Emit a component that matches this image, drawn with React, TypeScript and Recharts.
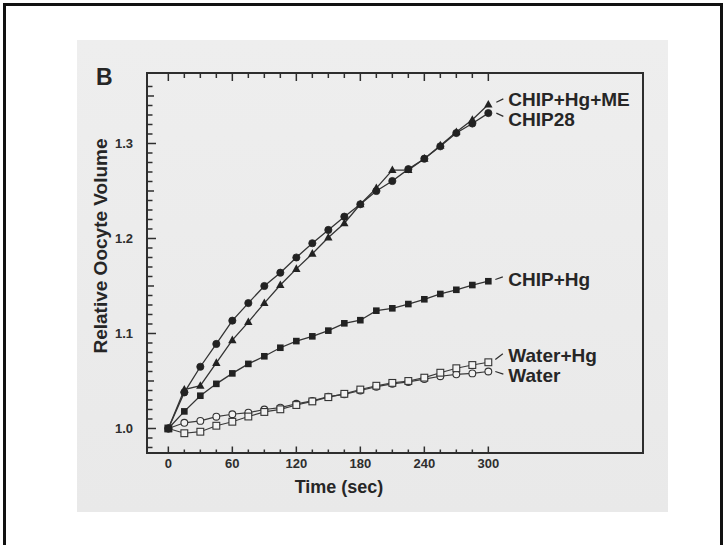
import React from 'react';
import { LineChart, Line, XAxis, YAxis, ReferenceArea, ReferenceLine } from 'recharts';

// ---- data ----
const times = [0, 15, 30, 45, 60, 75, 90, 105, 120, 135, 150, 165, 180, 195, 210, 225, 240, 255, 270, 285, 300];
const chipHgMe = [1.0, 1.041, 1.045, 1.069, 1.093, 1.112, 1.132, 1.151, 1.168, 1.184, 1.201, 1.216, 1.236, 1.253, 1.272, 1.272, 1.284, 1.298, 1.312, 1.325, 1.341];
const chip28 = [1.0, 1.038, 1.065, 1.089, 1.1135, 1.132, 1.15, 1.164, 1.18, 1.195, 1.209, 1.223, 1.236, 1.25, 1.2605, 1.273, 1.284, 1.297, 1.311, 1.321, 1.332];
const chipHg = [1.0, 1.018, 1.0345, 1.047, 1.058, 1.068, 1.076, 1.085, 1.092, 1.097, 1.103, 1.1107, 1.114, 1.124, 1.1265, 1.131, 1.136, 1.1416, 1.146, 1.151, 1.155];
const waterHg = [1.0, 0.995, 0.9966, 1.0029, 1.0071, 1.0126, 1.0174, 1.0202, 1.0247, 1.0285, 1.033, 1.0365, 1.041, 1.045, 1.048, 1.05, 1.0535, 1.0587, 1.0634, 1.0668, 1.0697];
const water = [1.0, 1.006, 1.008, 1.0124, 1.015, 1.0166, 1.02, 1.022, 1.026, 1.029, 1.0335, 1.036, 1.04, 1.044, 1.047, 1.049, 1.052, 1.055, 1.057, 1.058, 1.06];

const xTickLabels = [0, 60, 120, 180, 240, 300];
const yTickLabels = ['1.0', '1.1', '1.2', '1.3'];
const yMinorTicks = Array.from({ length: 39 }, (_, i) => Math.round((0.98 + i * 0.01) * 100) / 100);
const xDomain = [-20, 445];
const yDomain = [0.9742, 1.3742];

const data = times.map((t, i) => ({
  t,
  chipHgMe: chipHgMe[i],
  chip28: chip28[i],
  chipHg: chipHg[i],
  waterHg: waterHg[i],
  water: water[i],
}));

const INK = '#2e2e2e';
const FONT = '"Liberation Sans", Arial, Helvetica, sans-serif';

const BottomTick = (props: any) => {
  const { x, y, payload } = props;
  const v = payload.value;
  const major = xTickLabels.includes(v);
  return (
    <g>
      <line x1={x} x2={x} y1={y} y2={y - (major ? 6.5 : 3.5)} stroke={INK} strokeWidth={1.5} />
      {major && (
        <text x={x} y={y + 15} textAnchor="middle" fontFamily={FONT} fontWeight="bold" fontSize={13} fill={INK}>
          {v}
        </text>
      )}
    </g>
  );
};

const LeftTick = (props: any) => {
  const { x, y, payload } = props;
  const v = payload.value;
  const lbl = yTickLabels.find((s) => Math.abs(parseFloat(s) - v) < 1e-6);
  const half = Math.abs(Math.round(v * 100) % 5) === 0;
  const len = lbl ? 9 : half ? 7 : 5.5;
  return (
    <g>
      <line x1={x} x2={x + len} y1={y} y2={y} stroke={INK} strokeWidth={1.5} />
      {lbl && (
        <text x={x - 14} y={y + 4.5} textAnchor="end" fontFamily={FONT} fontWeight="bold" fontSize={13} fill={INK}>
          {lbl}
        </text>
      )}
    </g>
  );
};

// short tick at the top edge of the frame, drawn from a full-height reference line
const topTickShape = (major: boolean) => (p: any) => {
  const top = Math.min(p.y1, p.y2);
  return <line x1={p.x1} x2={p.x1} y1={top} y2={top + (major ? 8 : 5)} stroke={INK} strokeWidth={1.5} />;
};

const FilledCircle = (p: any) => <circle key={`fc${p.index}`} cx={p.cx} cy={p.cy} r={3.6} fill="#222" stroke="#222" strokeWidth={0.8} />;
const FilledTriangle = (p: any) => (
  <polygon
    key={`ft${p.index}`}
    points={`${p.cx},${p.cy - 4.6} ${p.cx - 4.2},${p.cy + 3} ${p.cx + 4.2},${p.cy + 3}`}
    fill="#222"
  />
);
const FilledSquare = (p: any) => <rect key={`fs${p.index}`} x={p.cx - 3.3} y={p.cy - 3.3} width={6.6} height={6.6} fill="#222" />;
const OpenCircle = (p: any) => <circle key={`oc${p.index}`} cx={p.cx} cy={p.cy} r={3.4} fill="#f2f2f2" stroke="#333" strokeWidth={1.1} />;
const OpenSquare = (p: any) => (
  <rect key={`os${p.index}`} x={p.cx - 3.4} y={p.cy - 3.4} width={6.8} height={6.8} fill="#f2f2f2" stroke="#333" strokeWidth={1.1} />
);

const makeLabel = (text: string, dy: number, lead: [number, number, number, number]) => (p: any) => {
  if (p.index !== times.length - 1) return null;
  const { x, y } = p;
  return (
    <g key={`lbl-${text}`}>
      <line x1={x + lead[0]} y1={y + lead[1]} x2={x + lead[2]} y2={y + lead[3]} stroke={INK} strokeWidth={1.2} />
      <text x={x + 20} y={y + dy} fontFamily={FONT} fontWeight="bold" fontSize={19} fill="#262626">
        {text}
      </text>
    </g>
  );
};

export default function App() {
  return (
    <div style={{ position: 'absolute', left: 0, top: 0, width: 726, height: 545, background: '#fff', overflow: 'hidden' }}>
      <div
        style={{
          position: 'absolute',
          left: 3,
          top: 3,
          width: 714,
          height: 600,
          borderLeft: '3px solid #111',
          borderTop: '3px solid #111',
          borderRight: '3px solid #111',
        }}
      />
      <div style={{ position: 'absolute', left: 77, top: 40, width: 591, height: 472, background: 'linear-gradient(#eeeeee, #e9e9e9)' }} />
      <div style={{ position: 'absolute', left: 0, top: 0 }}>
        <LineChart width={726} height={545} data={data} margin={{ top: 73, right: 83, bottom: 62, left: 87 }}>
          <XAxis
            dataKey="t"
            type="number"
            domain={xDomain}
            allowDataOverflow
            ticks={times}
            interval={0}
            tickSize={0}
            tickMargin={0}
            tick={BottomTick}
            axisLine={{ stroke: INK, strokeWidth: 2 }}
            tickLine={false}
            height={30}
          />
          <YAxis
            type="number"
            domain={yDomain}
            allowDataOverflow
            ticks={yMinorTicks}
            interval={0}
            tickSize={0}
            tickMargin={0}
            tick={LeftTick}
            axisLine={{ stroke: INK, strokeWidth: 2 }}
            tickLine={false}
            width={60}
          />
          <ReferenceArea x1={xDomain[0]} x2={xDomain[1]} y1={yDomain[0]} y2={yDomain[1]} fill="none"
            stroke={INK} strokeWidth={2} ifOverflow="visible" />
          {times.map((t) => (
            <ReferenceLine key={`tt${t}`} x={t} stroke="none" shape={topTickShape(xTickLabels.includes(t))} />
          ))}
          <Line dataKey="water" stroke="#3a3a3a" strokeWidth={1.2} dot={OpenCircle} isAnimationActive={false}
            label={makeLabel('Water', 11, [7, 0, 15, 2.6])} />
          <Line dataKey="waterHg" stroke="#3a3a3a" strokeWidth={1.2} dot={OpenSquare} isAnimationActive={false}
            label={makeLabel('Water+Hg', 0, [7, -2.7, 14.5, -8.5])} />
          <Line dataKey="chipHg" stroke="#333" strokeWidth={1.3} dot={FilledSquare} isAnimationActive={false}
            label={makeLabel('CHIP+Hg', 4.5, [7, -1.7, 14.5, -4.3])} />
          <Line dataKey="chip28" stroke="#333" strokeWidth={1.3} dot={FilledCircle} isAnimationActive={false}
            label={makeLabel('CHIP28', 13, [8, 0, 15, 3.3])} />
          <Line dataKey="chipHgMe" stroke="#333" strokeWidth={1.3} dot={FilledTriangle} isAnimationActive={false}
            label={makeLabel('CHIP+Hg+ME', 1, [8, -2.3, 15, -5.7])} />
        </LineChart>
      </div>
      <div style={{ position: 'absolute', left: 96, top: 63, fontFamily: FONT, fontWeight: 'bold', fontSize: 23, color: '#262626', lineHeight: '28px' }}>
        B
      </div>
      <div
        style={{
          position: 'absolute',
          left: 101,
          top: 246,
          transform: 'translate(-50%, -50%) rotate(-90deg)',
          whiteSpace: 'nowrap',
          fontFamily: FONT,
          fontWeight: 'bold',
          fontSize: 19,
          color: '#262626',
        }}
      >
        Relative Oocyte Volume
      </div>
      <div
        style={{
          position: 'absolute',
          left: 339,
          top: 487,
          transform: 'translate(-50%, -50%)',
          whiteSpace: 'nowrap',
          fontFamily: FONT,
          fontWeight: 'bold',
          fontSize: 18,
          color: '#262626',
        }}
      >
        Time (sec)
      </div>
    </div>
  );
}
